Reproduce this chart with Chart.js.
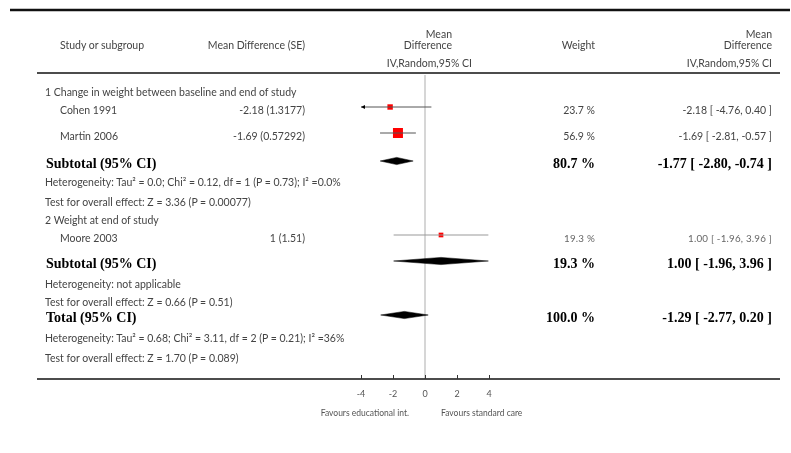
<!DOCTYPE html>
<html>
<head>
<meta charset="utf-8">
<script src="https://cdn.jsdelivr.net/npm/chart.js@4.4.1/dist/chart.umd.min.js"></script>
<style>
  body { margin: 0; background: #fff; }
  #wrap { position: relative; width: 791px; height: 453px; overflow: hidden;
          font-family: Lato, "DejaVu Sans", sans-serif; color: #444; }
  #plot { position: absolute; left: 0; top: 0; }
  .t { position: absolute; white-space: nowrap; font-size: 10.5px; line-height: 14px; transform: translateY(-50%); }
  .r { transform: translate(-100%, -50%); }
  .b { font-family: "Liberation Serif", serif; font-weight: bold; font-size: 14px; line-height: 18px; color: #000; }
  .s { font-size: 9.8px; letter-spacing: 0.2px; color: #666; }
  .f { font-size: 8.5px; color: #555; }
</style>
</head>
<body>
<div id="wrap"><canvas id="plot" width="791" height="453"></canvas></div>
<script>
// individual studies
const studies = ['Cohen 1991', 'Martin 2006', 'Moore 2003'];
const studyGroup = [0, 0, 1];
const mdSE = ['-2.18 (1.3177)', '-1.69 (0.57292)', '1 (1.51)'];
const md = [-2.18, -1.69, 1.00];
const ciLow = [-4.76, -2.81, -1.96];
const ciHigh = [0.40, -0.57, 3.96];
const weights = [23.7, 56.9, 19.3];

// pooled estimates (subtotal 1, subtotal 2, total)
const pooledLabels = ['Subtotal (95% CI)', 'Subtotal (95% CI)', 'Total (95% CI)'];
const pooledMD = [-1.77, 1.00, -1.29];
const pooledLow = [-2.80, -1.96, -2.77];
const pooledHigh = [-0.74, 3.96, 0.20];
const pooledWeight = [80.7, 19.3, 100.0];

const groups = ['1 Change in weight between baseline and end of study', '2 Weight at end of study'];
const heterogeneity = [
  'Heterogeneity: Tau² = 0.0; Chi² = 0.12, df = 1 (P = 0.73); I² =0.0%',
  'Heterogeneity: not applicable',
  'Heterogeneity: Tau² = 0.68; Chi² = 3.11, df = 2 (P = 0.21); I² =36%'
];
const overallEffect = [
  'Test for overall effect: Z = 3.36 (P = 0.00077)',
  'Test for overall effect: Z = 0.66 (P = 0.51)',
  'Test for overall effect: Z = 1.70 (P = 0.089)'
];
const xTicks = [-4, -2, 0, 2, 4];

// row layout, in line units from the top of the plot
const rowPos = {
  g0: 0.7, s0: 1.6, s1: 2.9, p0: 4.3, h0: 5.2, z0: 6.2,
  g1: 7.1, s2: 8.0, p1: 9.3, h1: 10.3, z1: 11.2,
  p2: 12.0, h2: 13.0, z2: 14.0
};
const diamondHalf = 0.18;

const fmt = v => v.toFixed(2);
const ciText = (m, lo, hi) => fmt(m) + ' [ ' + fmt(lo) + ', ' + fmt(hi) + ' ]';

const maxW = Math.max(...weights);
const sideFor = w => 10 * Math.pow(w / maxW, 0.7);

const datasets = [];
studies.forEach((s, i) => {
  datasets.push({
    type: 'line', data: [{x: ciLow[i], y: rowPos['s' + i]}, {x: ciHigh[i], y: rowPos['s' + i]}],
    borderColor: studyGroup[i] === 1 ? '#999' : '#555', borderWidth: 1, pointRadius: 0, fill: false
  });
});
pooledMD.forEach((m, i) => {
  const y = rowPos['p' + i];
  datasets.push({
    type: 'line',
    data: [{x: pooledLow[i], y: y}, {x: m, y: y - diamondHalf}, {x: pooledHigh[i], y: y},
           {x: m, y: y + diamondHalf}, {x: pooledLow[i], y: y}],
    borderColor: '#000', backgroundColor: '#000', borderWidth: 0.5, pointRadius: 0, fill: 'shape'
  });
});
datasets.push({
  type: 'scatter',
  data: md.map((m, i) => ({x: m, y: rowPos['s' + i]})),
  pointStyle: 'rect', backgroundColor: '#ff0000', borderWidth: 0,
  pointRadius: weights.map(w => sideFor(w) / (2 * Math.SQRT1_2))
});
datasets.push({
  type: 'scatter',
  data: md.map((m, i) => ({x: m, y: rowPos['s' + i]})),
  pointStyle: 'line', rotation: 90, pointRadius: 1.5, borderColor: '#000', borderWidth: 1
});

const forestExtras = {
  id: 'forestExtras',
  afterDatasetsDraw(chart) {
    const {ctx, scales: {x, y}} = chart;
    ctx.save();
    ctx.fillStyle = '#000';
    ciLow.forEach((lo, i) => {
      if (lo < x.min) {
        const px = x.getPixelForValue(x.min), py = y.getPixelForValue(rowPos['s' + i]);
        ctx.beginPath();
        ctx.moveTo(px, py); ctx.lineTo(px + 4, py - 2); ctx.lineTo(px + 4, py + 2);
        ctx.closePath(); ctx.fill();
      }
    });
    ctx.restore();
  },
  afterDraw(chart) {
    const {ctx, chartArea, scales: {x}} = chart;
    const hline = (x1, y0, x2) => { ctx.beginPath(); ctx.moveTo(x1, y0); ctx.lineTo(x2, y0); ctx.stroke(); };
    ctx.save();
    ctx.strokeStyle = '#111';
    ctx.lineWidth = 2.5;
    hline(10, 10, 790);
    ctx.lineWidth = 1.5;
    hline(37, 73, 780);
    hline(37, chartArea.bottom, 780);
    ctx.lineWidth = 1;
    ctx.strokeStyle = '#333';
    x.ticks.forEach(t => {
      const px = Math.round(x.getPixelForValue(t.value)) + 0.5;
      ctx.beginPath(); ctx.moveTo(px, chartArea.bottom - 4); ctx.lineTo(px, chartArea.bottom); ctx.stroke();
    });
    ctx.restore();
  }
};

const chart = new Chart(document.getElementById('plot'), {
  type: 'scatter',
  data: { datasets: datasets },
  options: {
    responsive: false,
    animation: false,
    layout: { padding: { left: 361, right: 302, top: 75, bottom: 43.2 } },
    scales: {
      x: {
        type: 'linear', min: -4, max: 4,
        afterBuildTicks: scale => { scale.ticks = xTicks.map(v => ({value: v})); },
        grid: { drawTicks: false, lineWidth: 2,
                color: c => (c.tick && c.tick.value === 0) ? '#d6d6d6' : 'rgba(0,0,0,0)' },
        border: { display: false },
        ticks: { padding: 10, color: '#555', font: { family: 'Lato', size: 9 } }
      },
      y: { type: 'linear', min: 0, max: 15.2, reverse: true, display: false }
    },
    plugins: { legend: { display: false }, tooltip: { enabled: false } }
  },
  plugins: [forestExtras]
});

// table text
const wrap = document.getElementById('wrap');
function addText(text, x, y, cls) {
  const d = document.createElement('div');
  d.className = 't ' + (cls || '');
  d.textContent = text;
  d.style.left = x + 'px';
  d.style.top = y + 'px';
  wrap.appendChild(d);
}
const rowY = key => chart.scales.y.getPixelForValue(rowPos[key]) + 2.5;

addText('Study or subgroup', 60, 45);
addText('Mean Difference (SE)', 305, 45, 'r');
addText('Mean', 452, 34, 'r');
addText('Difference', 452, 45, 'r');
addText('IV,Random,95% CI', 472, 63, 'r');
addText('Weight', 595, 45, 'r');
addText('Mean', 772, 34, 'r');
addText('Difference', 772, 45, 'r');
addText('IV,Random,95% CI', 772, 63, 'r');

groups.forEach((g, gi) => {
  addText(g, 45, rowY('g' + gi));
  studies.forEach((s, i) => {
    if (studyGroup[i] !== gi) return;
    const y = rowY('s' + i);
    const small = gi === 1 ? 'r s' : 'r';
    addText(s, 60, y);
    addText(mdSE[i], 305, y, 'r');
    addText(weights[i].toFixed(1) + ' %', 595, y, small);
    addText(ciText(md[i], ciLow[i], ciHigh[i]), 772, y, small);
  });
});
pooledLabels.forEach((p, i) => {
  const y = rowY('p' + i);
  addText(p, 46, y, 'b');
  addText(pooledWeight[i].toFixed(1) + ' %', 595, y, 'b r');
  addText(ciText(pooledMD[i], pooledLow[i], pooledHigh[i]), 772, y, 'b r');
  addText(heterogeneity[i], 45, rowY('h' + i));
  addText(overallEffect[i], 45, rowY('z' + i));
});

addText('Favours educational int.', 409, 413, 'r f');
addText('Favours standard care', 441, 413, 'f');
</script>
</body>
</html>
